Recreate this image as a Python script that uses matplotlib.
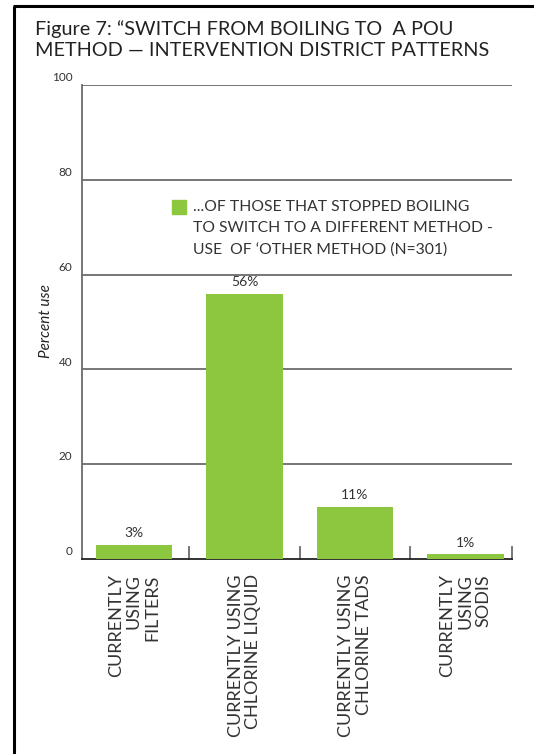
import matplotlib
matplotlib.use("Agg")
import matplotlib.pyplot as plt
from matplotlib.transforms import ScaledTranslation
from matplotlib.lines import Line2D

plt.rcParams['font.family'] = ['Lato', 'DejaVu Sans']

# Data
categories = [
    "CURRENTLY\nUSING\nFILTERS",
    "CURRENTLY USING\nCHLORINE LIQUID",
    "CURRENTLY USING\nCHLORINE TADS",
    "CURRENTLY\nUSING\nSODIS",
]
values = [3, 56, 11, 1]
value_labels = ["3%", "56%", "11%", "1%"]
y_ticks = [0, 20, 40, 60, 80, 100]
legend_label = "...OF THOSE THAT STOPPED BOILING\nTO SWITCH TO A DIFFERENT METHOD -\nUSE  OF \u2018OTHER METHOD (N=301)"
title_text = "Figure 7: \u201cSWITCH FROM BOILING TO  A POU\nMETHOD \u2014 INTERVENTION DISTRICT PATTERNS"

GREEN = "#8dc63f"
GRID = "#6b6b6b"
TEXT = "#333333"

fig = plt.figure(figsize=(5.34, 7.54), dpi=100)
fig.patch.set_facecolor("white")

# Page frame (top and left edges)
fig.add_artist(Line2D([14 / 534, 14 / 534], [0, 1 - 6 / 754], transform=fig.transFigure,
                      color="black", lw=2.2, solid_capstyle="butt"))
fig.add_artist(Line2D([13 / 534, 1], [1 - 6 / 754, 1 - 6 / 754], transform=fig.transFigure,
                      color="black", lw=2.2, solid_capstyle="butt"))

fig.text(35 / 534, 1 - 20 / 754, title_text, ha="left", va="top", fontsize=14.3,
         color="#222222", linespacing=1.3)

ax = fig.add_axes([82 / 534, 195 / 754, 430 / 534, 474 / 754])
x = list(range(len(values)))
ax.bar(x, values, width=0.69, color=GREEN, zorder=3)
ax.set_xlim(-0.47, 3.42)
ax.set_ylim(0, 100)

for xi, v, lab in zip(x, values, value_labels):
    ax.text(xi, v + 1.2, lab, ha="center", va="bottom", fontsize=10, color=TEXT)

# Horizontal rules
ax.set_yticks(y_ticks)
for t in y_ticks[1:]:
    ax.axhline(t, color=GRID, lw=1.3, zorder=1)
ax.tick_params(axis="y", length=0, pad=7, labelsize=8.5, labelcolor=TEXT)
offset = ScaledTranslation(0, 6 / 72, fig.dpi_scale_trans)
for lab in ax.get_yticklabels():
    lab.set_transform(lab.get_transform() + offset)

for s in ["top", "right"]:
    ax.spines[s].set_visible(False)
ax.spines["left"].set_color(GRID)
ax.spines["left"].set_linewidth(1.3)
ax.spines["bottom"].set_color("#222222")
ax.spines["bottom"].set_linewidth(1.3)

# Category dividers rising from the baseline
ax.set_xticks(x)
ax.set_xticklabels(categories, rotation=90, ha="center", va="top", multialignment="right",
                   fontsize=13, color=TEXT, linespacing=1.15)
ax.tick_params(axis="x", length=0, pad=11)
for d in [0.5, 1.5, 2.5, 3.42]:
    ax.plot([d, d], [0, 2.5], color=GRID, lw=1.3, clip_on=False, zorder=2)

ax.set_ylabel("Percent use", fontsize=11, style="italic", color="#222222")
ax.yaxis.set_label_coords(-0.068, 0.502)

# Legend
fig.patches.append(plt.Rectangle((172 / 534, 1 - 214 / 754), 14 / 534, 14 / 754,
                                 transform=fig.transFigure, color=GREEN, figure=fig))
fig.text(193 / 534, 1 - 200 / 754, legend_label, ha="left", va="top", fontsize=11.3,
         color=TEXT, linespacing=1.65)

fig.savefig("out.png", dpi=100, facecolor="white")
